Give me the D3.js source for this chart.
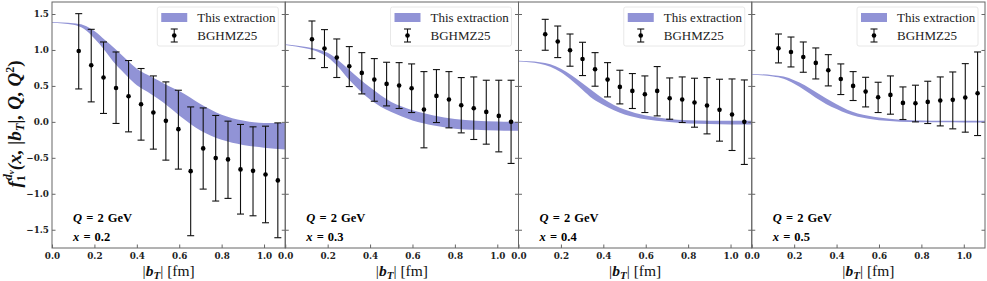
<!DOCTYPE html>
<meta charset="utf-8">
<body style="margin:0;background:#fff">
<script src="https://cdn.jsdelivr.net/npm/d3@7"></script>
<script>

// ---- data ----
var xLabels = ["0.2", "0.3", "0.4", "0.5"];
var bT = [0.126, 0.185, 0.243, 0.302, 0.361, 0.420, 0.478, 0.537, 0.596,
          0.654, 0.713, 0.772, 0.830, 0.889, 0.948, 1.007, 1.065];

// lattice points (BGHMZ25): central, upper end, lower end
var lat1   = [0.986, 0.787, 0.617, 0.472, 0.357, 0.246, 0.130, 0.014, -0.101, -0.685, -0.369, -0.504, -0.522, -0.661, -0.681, -0.731, -0.814];
var latHi1 = [1.505, 1.287, 1.111, 0.972, 0.853, 0.742, 0.639, 0.556, 0.440, 0.208, 0.194, 0.089, 0.010, -0.036, -0.069, -0.060, -0.014];
var latLo1 = [0.458, 0.278, 0.117, -0.022, -0.139, -0.254, -0.379, -0.532, -0.657, -1.583, -0.935, -1.101, -1.064, -1.282, -1.306, -1.403, -1.611];

var lat2   = [1.149, 1.019, 0.894, 0.774, 0.681, 0.588, 0.528, 0.505, 0.468, 0.172, 0.361, 0.311, 0.232, 0.190, 0.139, 0.083, 0.000];
var latHi2 = [1.403, 1.283, 1.153, 1.047, 0.963, 0.880, 0.829, 0.824, 0.806, 0.699, 0.727, 0.699, 0.616, 0.625, 0.579, 0.579, 0.579];
var latLo2 = [0.880, 0.755, 0.617, 0.491, 0.389, 0.287, 0.222, 0.186, 0.130, -0.361, -0.009, -0.083, -0.153, -0.245, -0.310, -0.417, -0.578];

var lat3   = [1.218, 1.117, 0.996, 0.875, 0.732, 0.588, 0.486, 0.431, 0.385, 0.431, 0.329, 0.311, 0.269, 0.227, 0.167, 0.102, 0.000];
var latHi3 = [1.426, 1.333, 1.222, 1.107, 0.963, 0.824, 0.718, 0.672, 0.639, 0.769, 0.611, 0.625, 0.607, 0.616, 0.593, 0.597, 0.583];
var latLo3 = [0.996, 0.894, 0.774, 0.644, 0.496, 0.347, 0.250, 0.186, 0.130, 0.083, 0.037, -0.009, -0.074, -0.167, -0.268, -0.398, -0.592];

var lat4   = [1.024, 0.972, 0.903, 0.820, 0.718, 0.597, 0.500, 0.421, 0.343, 0.375, 0.264, 0.260, 0.278, 0.297, 0.306, 0.338, 0.398];
var latHi4 = [1.222, 1.180, 1.111, 1.028, 0.935, 0.806, 0.699, 0.620, 0.551, 0.639, 0.486, 0.510, 0.565, 0.625, 0.694, 0.810, 0.972];
var latLo4 = [0.820, 0.764, 0.690, 0.597, 0.500, 0.380, 0.297, 0.208, 0.130, 0.107, 0.033, 0.000, -0.023, -0.056, -0.097, -0.143, -0.190];

// extraction band
var bandB   = [0, 0.1, 0.15, 0.2, 0.25, 0.3, 0.35, 0.4, 0.45, 0.5, 0.55, 0.6, 0.7, 0.8, 0.9, 1.0, 1.1];
var bandHi1 = [1.390, 1.370, 1.345, 1.265, 1.140, 1.010, 0.870, 0.740, 0.655, 0.580, 0.500, 0.430, 0.250, 0.100, 0.020, -0.015, -0.015];
var bandLo1 = [1.380, 1.350, 1.295, 1.160, 0.990, 0.800, 0.650, 0.510, 0.420, 0.320, 0.210, 0.090, -0.120, -0.250, -0.320, -0.360, -0.385];
var bandHi2 = [1.080, 1.040, 1.010, 0.960, 0.857, 0.730, 0.600, 0.480, 0.370, 0.278, 0.215, 0.160, 0.090, 0.040, 0.015, 0.005, 0.000];
var bandLo2 = [1.070, 1.020, 0.980, 0.900, 0.764, 0.590, 0.440, 0.310, 0.210, 0.139, 0.075, 0.020, -0.050, -0.095, -0.110, -0.120, -0.125];
var bandHi3 = [0.850, 0.830, 0.800, 0.740, 0.648, 0.540, 0.430, 0.320, 0.235, 0.172, 0.125, 0.090, 0.045, 0.022, 0.016, 0.014, 0.014];
var bandLo3 = [0.840, 0.810, 0.765, 0.690, 0.579, 0.450, 0.320, 0.235, 0.160, 0.102, 0.065, 0.035, 0.000, -0.022, -0.030, -0.035, -0.037];
var bandHi4 = [0.665, 0.650, 0.630, 0.580, 0.510, 0.420, 0.330, 0.245, 0.170, 0.117, 0.085, 0.060, 0.030, 0.018, 0.015, 0.014, 0.014];
var bandLo4 = [0.655, 0.630, 0.600, 0.530, 0.440, 0.340, 0.250, 0.180, 0.115, 0.070, 0.042, 0.022, 0.003, -0.004, -0.006, -0.008, -0.008];

var xTicks = [0, 0.2, 0.4, 0.6, 0.8, 1.0];
var yTicks = [-1.5, -1.0, -0.5, 0.0, 0.5, 1.0, 1.5];

var panels = [
  {lat: lat1, hi: latHi1, lo: latLo1, bHi: bandHi1, bLo: bandLo1},
  {lat: lat2, hi: latHi2, lo: latLo2, bHi: bandHi2, bLo: bandLo2},
  {lat: lat3, hi: latHi3, lo: latLo3, bHi: bandHi3, bLo: bandLo3},
  {lat: lat4, hi: latHi4, lo: latLo4, bHi: bandHi4, bLo: bandLo4}
];

// ---- layout ----
var W = 987, H = 281;
var plotLeft = 52, plotTop = 2, plotBottom = 248, pw = 233.25;
var bandColor = "#9193d6", frameColor = "#666";
var serif = "'Liberation Serif', 'DejaVu Serif', serif";

var svg = d3.select("body").append("svg")
    .attr("width", W).attr("height", H)
    .style("display", "block");

var y = d3.scaleLinear().domain([-1.754, 1.667]).range([plotBottom, plotTop]);

panels.forEach(function(p, i) {
  var x0 = plotLeft + i * pw;
  var x = d3.scaleLinear().domain([0, 1.1]).range([x0, x0 + pw]);

  var g = svg.append("g");

  // band
  var area = d3.area()
      .curve(d3.curveMonotoneX)
      .x(function(d, k) { return x(bandB[k]); })
      .y0(function(d, k) { return y(p.bLo[k]); })
      .y1(function(d, k) { return y(p.bHi[k]); });
  g.append("path").datum(bandB)
      .attr("d", area)
      .attr("fill", bandColor);

  // error bars
  var eb = g.selectAll(".eb").data(bT).enter().append("g");
  eb.append("line")
      .attr("x1", function(d) { return x(d); }).attr("x2", function(d) { return x(d); })
      .attr("y1", function(d, k) { return y(p.hi[k]); })
      .attr("y2", function(d, k) { return y(p.lo[k]); })
      .attr("stroke", "#111").attr("stroke-width", 1.1);
  [p.hi, p.lo].forEach(function(arr) {
    eb.append("line")
        .attr("x1", function(d) { return x(d) - 3.5; }).attr("x2", function(d) { return x(d) + 3.5; })
        .attr("y1", function(d, k) { return y(arr[k]); })
        .attr("y2", function(d, k) { return y(arr[k]); })
        .attr("stroke", "#111").attr("stroke-width", 1.1);
  });
  eb.append("circle")
      .attr("cx", function(d) { return x(d); })
      .attr("cy", function(d, k) { return y(p.lat[k]); })
      .attr("r", 2.3).attr("fill", "#000");

  // axes
  var xAxis = g.append("g")
      .attr("transform", "translate(0," + plotBottom + ")")
      .call(d3.axisBottom(x).tickValues(xTicks).tickFormat(d3.format(".1f"))
            .tickSizeInner(-3.5).tickSizeOuter(0).tickPadding(5));
  var yAxis = g.append("g")
      .attr("transform", "translate(" + x0 + ",0)")
      .call(d3.axisLeft(y).tickValues(yTicks).tickFormat(d3.format(".1f"))
            .tickSizeInner(-3.5).tickSizeOuter(0).tickPadding(3));
  var yAxisR = g.append("g")
      .attr("transform", "translate(" + (x0 + pw) + ",0)")
      .call(d3.axisRight(y).tickValues(yTicks).tickFormat("")
            .tickSizeInner(-3.5).tickSizeOuter(0));
  [xAxis, yAxis, yAxisR].forEach(function(a) {
    a.select(".domain").remove();
    a.selectAll("line").attr("stroke", frameColor);
    a.selectAll("text")
        .attr("fill", "#222")
        .style("font-family", "'DejaVu Serif', serif")
        .style("font-weight", "bold")
        .style("font-size", "8.8px");
  });
  if (i > 0) yAxis.selectAll("text").remove();

  // frame
  g.append("rect")
      .attr("x", x0).attr("y", plotTop).attr("width", pw).attr("height", plotBottom - plotTop)
      .attr("fill", "none").attr("stroke", frameColor).attr("stroke-width", 1);

  // legend
  var lx = x0 + pw - 128, ly = 7;
  var lg = g.append("g").attr("transform", "translate(" + lx + "," + ly + ")");
  lg.append("rect")
      .attr("width", 121).attr("height", 39).attr("rx", 2)
      .attr("fill", "#fff").attr("fill-opacity", 0.85)
      .attr("stroke", "#e2e2e2").attr("stroke-width", 0.8);
  lg.append("rect")
      .attr("x", 4).attr("y", 6).attr("width", 26).attr("height", 9)
      .attr("fill", bandColor);
  lg.append("line").attr("x1", 17).attr("x2", 17).attr("y1", 22).attr("y2", 35)
      .attr("stroke", "#111").attr("stroke-width", 1.1);
  [22, 35].forEach(function(cy) {
    lg.append("line").attr("x1", 13.5).attr("x2", 20.5).attr("y1", cy).attr("y2", cy)
        .attr("stroke", "#111").attr("stroke-width", 1.1);
  });
  lg.append("circle").attr("cx", 17).attr("cy", 28.5).attr("r", 2.3).attr("fill", "#000");
  lg.append("text").attr("x", 40).attr("y", 14.5).text("This extraction")
      .style("font-family", serif).style("font-size", "13px").attr("fill", "#222");
  lg.append("text").attr("x", 40).attr("y", 32.5).text("BGHMZ25")
      .style("font-family", serif).style("font-size", "13px").attr("fill", "#222");

  // annotations
  var t1 = g.append("text").attr("x", x0 + 21).attr("y", 222)
      .style("font-family", serif).style("font-weight", "bold").style("font-size", "12.5px")
      .style("word-spacing", "1px");
  t1.append("tspan").style("font-style", "italic").text("Q");
  t1.append("tspan").text(" = 2 GeV");
  var t2 = g.append("text").attr("x", x0 + 21).attr("y", 241)
      .style("font-family", serif).style("font-weight", "bold").style("font-size", "12.5px")
      .style("word-spacing", "1px");
  t2.append("tspan").style("font-style", "italic").text("x");
  t2.append("tspan").text(" = " + xLabels[i]);

  // x label
  var xl = g.append("text").attr("x", x0 + pw / 2).attr("y", 276)
      .attr("text-anchor", "middle")
      .style("font-family", serif).style("font-size", "15.5px").attr("fill", "#111");
  xl.append("tspan").text("|");
  xl.append("tspan").style("font-weight", "bold").style("font-style", "italic").text("b");
  xl.append("tspan").style("font-weight", "bold").style("font-style", "italic")
      .style("font-size", "11px").attr("dy", 3).text("T");
  xl.append("tspan").attr("dy", -3).text("| [fm]");
});

// y label
var yl = svg.append("text")
    .attr("transform", "translate(21,124) rotate(-90)")
    .attr("text-anchor", "middle")
    .style("font-family", serif).style("font-weight", "bold").style("font-style", "italic")
    .style("font-size", "19px").attr("fill", "#111");
yl.append("tspan").text("f");
yl.append("tspan").style("font-size", "12px").style("font-style", "normal").attr("dy", 4).text("1");
yl.append("tspan").style("font-size", "12px").attr("dx", -5).attr("dy", -13).text("d");
yl.append("tspan").style("font-size", "9px").attr("dy", 2).text("v");
yl.append("tspan").attr("dy", 7).text("(x, |b");
yl.append("tspan").style("font-size", "12.5px").attr("dy", 3).text("T");
yl.append("tspan").attr("dy", -3).text("|, Q, Q");
yl.append("tspan").style("font-size", "12px").style("font-style", "normal").attr("dy", -7).text("2");
yl.append("tspan").attr("dy", 7).style("font-style", "normal").text(")");

</script>
</body>
</html>
